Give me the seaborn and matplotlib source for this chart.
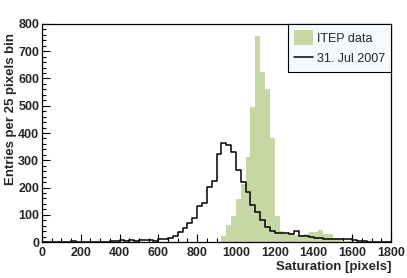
import numpy as np
import pandas as pd
import matplotlib.pyplot as plt
import matplotlib.ticker as mtick
import seaborn as sns

# ── Data: entries per 25-pixel bin, bins start at 0 and go to 1800 ──
bin_width = 25
bin_starts = list(range(0, 1800, bin_width))

jul2007 = [0, 0, 1, 0, 0, 1, 4, 2, 0, 1, 0, 0,
           1, 2, 3, 6, 8, 5, 7, 6, 7, 7, 7, 6,
           11, 11, 17, 23, 37, 50, 70, 88, 133, 144, 203, 223,
           324, 362, 356, 331, 264, 221, 185, 136, 111, 81, 56, 41,
           34, 34, 33, 28, 40, 24, 22, 20, 16, 16, 13, 11,
           11, 11, 10, 10, 7, 5, 4, 2, 1, 1, 0, 0]

itep = [0, 0, 0, 0, 0, 0, 0, 0, 0, 0, 0, 0,
        0, 0, 0, 0, 0, 0, 0, 0, 0, 0, 0, 0,
        0, 0, 0, 0, 0, 0, 0, 0, 0, 0, 0, 0,
        1, 22, 64, 95, 158, 212, 313, 494, 756, 625, 560, 380,
        97, 42, 30, 28, 27, 25, 28, 38, 38, 46, 29, 29,
        17, 15, 5, 3, 2, 0, 0, 0, 0, 0, 0, 0]

x_ticks = [0, 200, 400, 600, 800, 1000, 1200, 1400, 1600, 1800]
y_ticks = [0, 100, 200, 300, 400, 500, 600, 700, 800]

sns.set_style("white")
plt.rcParams['font.family'] = ['Liberation Sans', 'DejaVu Sans']

df = pd.DataFrame({
    'center': np.array(bin_starts) + bin_width / 2,
    'itep': itep,
    'jul2007': jul2007,
})

fig = plt.figure(figsize=(4.07, 2.78), dpi=100)
ax = fig.add_axes([0.103, 0.129, 0.858, 0.785])

sns.histplot(data=df, x='center', weights='itep', binwidth=bin_width,
             binrange=(0, 1800), element='bars',
             color='#c6d7a3', alpha=1, edgecolor='none', linewidth=0,
             ax=ax, label='ITEP data')
sns.histplot(data=df, x='center', weights='jul2007', binwidth=bin_width,
             binrange=(0, 1800), element='step',
             fill=False, color='black', linewidth=1.1, ax=ax,
             label='31. Jul 2007')

ax.set_xlim(0, 1800)
ax.set_ylim(0, 800)
ax.set_xticks(x_ticks)
ax.set_yticks(y_ticks)
ax.xaxis.set_minor_locator(mtick.MultipleLocator(50))
ax.yaxis.set_minor_locator(mtick.MultipleLocator(20))
ax.tick_params(which='both', direction='in', bottom=True, left=True,
               top=False, right=False, labelsize=9, width=0.8, pad=2,
               color='black')
ax.tick_params(axis='x', which='both', pad=3.5)
ax.tick_params(which='major', length=6)
ax.tick_params(which='minor', length=3)
for lbl in ax.get_xticklabels() + ax.get_yticklabels():
    lbl.set_fontweight('bold')
for s in ax.spines.values():
    s.set_visible(True)
    s.set_color('black')
    s.set_linewidth(0.9)

ax.set_xlabel('Saturation [pixels]', fontsize=9.5, fontweight='bold',
              loc='right')
ax.set_ylabel('Entries per 25 pixels bin', fontsize=9.5, fontweight='bold',
              loc='top')
ax.xaxis.set_label_coords(1.0, -0.085)
ax.yaxis.set_label_coords(-0.072, 0.958)

handles, labels = ax.get_legend_handles_labels()
order = [labels.index('ITEP data'), labels.index('31. Jul 2007')]
leg = ax.legend([handles[i] for i in order], [labels[i] for i in order],
                loc='upper right', fontsize=9, frameon=True, fancybox=False,
                borderpad=0.5, handlelength=1.5, handleheight=1.4,
                handletextpad=0.3, labelspacing=0.5, borderaxespad=0,
                bbox_to_anchor=(1.0, 1.0))
leg.get_frame().set_facecolor('#f6f9fb')
leg.get_frame().set_edgecolor('black')
leg.get_frame().set_linewidth(0.8)
leg.get_frame().set_alpha(1)

fig.savefig('out.png', dpi=100)
